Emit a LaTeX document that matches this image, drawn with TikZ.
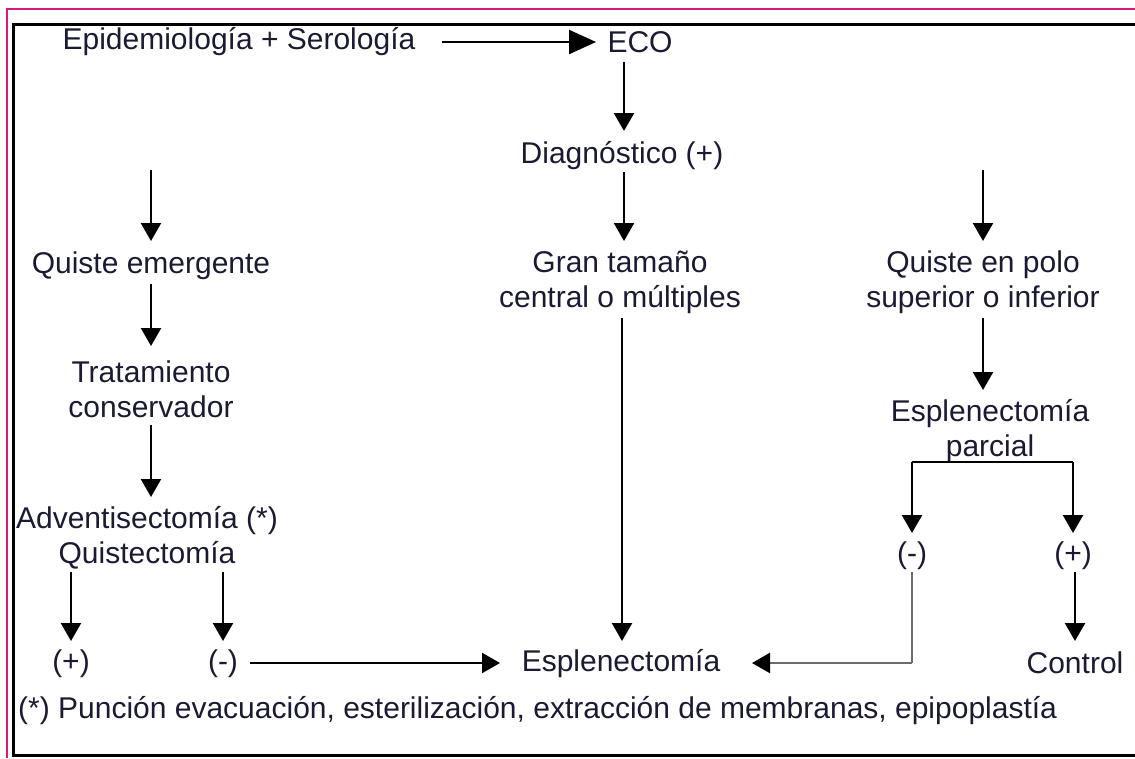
\documentclass[tikz,border=0pt]{standalone}
\usepackage{fontspec}
\setmainfont{Liberation Sans}
\usetikzlibrary{arrows.meta}
\definecolor{txt}{HTML}{1A1A33}
\definecolor{pinkb}{HTML}{D6197A}
\begin{document}
\begin{tikzpicture}[x=1pt,y=-1pt,
  lbl/.style={inner sep=0pt,text=txt,font=\fontsize{30}{35}\selectfont,align=center},
  conn/.style={line width=2.4pt,-{Triangle[length=18pt,width=20pt]}},
  bigconn/.style={line width=2.4pt,-{Triangle[length=27pt,width=24pt]}},
  grayconn/.style={line width=2.4pt,draw=gray!85!black,-{Triangle[length=18pt,width=20pt,color=black]}}]
\useasboundingbox (0,0) rectangle (1135,758);
% frames
\draw[pinkb,line width=2pt] (7,758) -- (7,9) -- (1135,9);
\draw[black,line width=3pt] (1135,24) -- (13,24) -- (13,755) -- (1135,755);
% nodes
\node[lbl] (epi) at (239,42) {Epidemiología + Serología};
\node[lbl] (eco) at (640,42) {ECO};
\node[lbl] (diag) at (622,156) {Diagnóstico (+)};
\node[lbl] (gran) at (620,282) {Gran tamaño\\central o múltiples};
\node[lbl] (esp) at (621,664) {Esplenectomía};
\coordinate (lt) at (151,170);
\node[lbl] (qe) at (151,266) {Quiste emergente};
\node[lbl] (trat) at (151,389) {Tratamiento\\conservador};
\node[lbl] (adv) at (147,538) {Adventisectomía (*)\\Quistectomía};
\node[lbl] (lp) at (71,664) {(+)};
\node[lbl] (lm) at (223,664) {(-)};
\coordinate (rt) at (983,170);
\node[lbl] (qp) at (983,282) {Quiste en polo\\superior o inferior};
\node[lbl] (ep) at (990,431) {Esplenectomía\\parcial};
\coordinate (bl) at (912,462);
\coordinate (br) at (1073,462);
\node[lbl] (rm) at (912,556) {(-)};
\node[lbl] (rp) at (1073,556) {(+)};
\node[lbl] (ctrl) at (1075,663) {Control};
\coordinate (gc) at (912,663);
\node[lbl,anchor=west] (foot) at (18,711) {(*) Punción evacuación, esterilización, extracción de membranas, epipoplastía};
% connectors
\draw[bigconn] (442,42) -- (596,42);
\draw[conn] (624,62) -- (624,131);
\draw[conn] (624,172) -- (624,241);
\draw[conn] (622,318) -- (622,641);
\draw[conn] (lt) -- (151,241);
\draw[conn] (151,284) -- (151,346);
\draw[conn] (151,425) -- (151,497);
\draw[conn] (71,572) -- (71,641);
\draw[conn] (223,572) -- (223,641);
\draw[conn] (250,663) -- (500,663);
\draw[conn] (rt) -- (983,241);
\draw[conn] (983,318) -- (983,390);
\draw[line width=2.4pt] (bl) -- (br);
\draw[conn] (bl) -- (912,533);
\draw[conn] (br) -- (1073,533);
\draw[line width=2.4pt,gray!85!black] (912,572) -- (gc);
\draw[grayconn] (gc) -- (752,663);
\draw[conn] (1075,572) -- (1075,641);
\end{tikzpicture}
\end{document}
